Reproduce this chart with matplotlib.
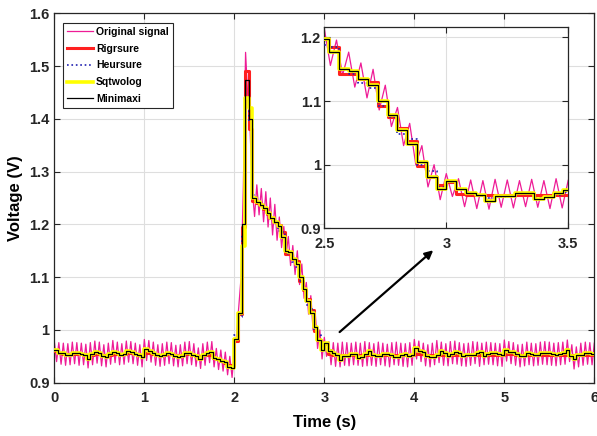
import numpy as np
import matplotlib
matplotlib.use('Agg')
import matplotlib.pyplot as plt

plt.rcParams['font.family'] = ['Liberation Sans', 'DejaVu Sans']
plt.rcParams['font.weight'] = 'bold'

# original signal (mV), sampled every 0.025 s from 0 to 6 s
orig_mv = [
    978, 940, 976, 935, 975, 933, 974, 934, 977, 936, 976, 933, 975, 934, 973, 928, 976, 934, 979, 937,
    977, 932, 972, 930, 975, 935, 980, 938, 977, 934, 974, 935, 979, 939, 978, 936, 975, 933, 972, 930,
    982, 942, 980, 939, 977, 933, 972, 931, 974, 933, 977, 936, 976, 932, 971, 930, 972, 932, 977, 936,
    978, 934, 974, 931, 966, 927, 974, 933, 977, 938, 978, 930, 965, 925, 962, 922, 958, 915, 950, 910,
    960, 990, 1045, 1100, 1270, 1526, 1440, 1380, 1265, 1215, 1275, 1218, 1268, 1205, 1262, 1195, 1250, 1180, 1238, 1170,
    1214, 1156, 1196, 1141, 1177, 1122, 1160, 1105, 1150, 1086, 1125, 1060, 1090, 1030, 1065, 1000, 1030, 965, 1000, 945,
    986, 950, 978, 934, 976, 931, 975, 930, 977, 933, 976, 932, 975, 934, 977, 933, 975, 931, 978, 932,
    976, 933, 974, 931, 977, 934, 975, 932, 973, 930, 976, 934, 977, 933, 975, 931, 974, 930, 976, 933,
    982, 945, 979, 940, 975, 932, 972, 930, 975, 934, 980, 938, 977, 933, 974, 932, 978, 936, 979, 935,
    976, 932, 974, 931, 975, 933, 978, 936, 977, 931, 975, 934, 977, 935, 976, 934, 975, 932, 974, 931,
    981, 941, 978, 936, 976, 933, 972, 930, 973, 932, 977, 934, 975, 932, 974, 933, 977, 935, 978, 934,
    977, 933, 975, 932, 976, 934, 977, 935, 981, 940, 972, 926, 968, 930, 975, 933, 977, 935, 976, 934,
    975]

# denoised signals (mV), one value every 0.04 s from 0 to 6 s
rigrsure_mv = [
    960, 956, 955, 954, 954, 955, 955, 954, 953, 951,
    953, 954, 954, 952, 951, 953, 955, 955, 954, 954,
    956, 956, 955, 953, 952, 957, 957, 955, 953, 952,
    952, 954, 954, 952, 951, 952, 954, 954, 953, 951,
    950, 952, 953, 953, 946, 944, 941, 938, 934, 932,
    979, 1030, 1195, 1490, 1380, 1245, 1240, 1236, 1230, 1220,
    1212, 1205, 1198, 1185, 1143, 1143, 1135, 1130, 1092, 1075,
    1058, 1038, 998, 981, 968, 973, 954, 953, 953, 952,
    952, 952, 953, 953, 953, 953, 953, 953, 953, 953,
    953, 953, 953, 953, 952, 952, 952, 953, 953, 953,
    954, 954, 954, 953, 953, 953, 953, 953, 953, 953,
    953, 953, 953, 953, 953, 953, 953, 953, 953, 953,
    953, 953, 953, 953, 953, 954, 954, 954, 953, 953,
    953, 953, 953, 953, 953, 953, 953, 953, 953, 953,
    953, 953, 953, 953, 952, 952, 953, 953, 953, 953,
    953]

heursure_mv = [
    961, 958, 955, 954, 952, 956, 956, 955, 951, 947,
    954, 957, 957, 951, 950, 953, 958, 956, 953, 954,
    959, 958, 954, 952, 950, 962, 960, 956, 953, 950,
    952, 956, 954, 951, 950, 951, 955, 956, 953, 951,
    946, 952, 955, 958, 947, 944, 941, 939, 930, 929,
    990, 1025, 1180, 1440, 1395, 1255, 1240, 1237, 1230, 1222,
    1210, 1204, 1188, 1185, 1150, 1143, 1128, 1120, 1092, 1075,
    1048, 1040, 1000, 990, 965, 972, 962, 955, 950, 947,
    949, 951, 955, 955, 948, 950, 953, 957, 953, 952,
    951, 954, 954, 952, 949, 949, 952, 953, 951, 952,
    963, 959, 957, 951, 949, 950, 953, 958, 955, 951,
    954, 957, 955, 952, 952, 953, 953, 956, 957, 952,
    954, 955, 955, 954, 952, 960, 957, 957, 954, 951,
    951, 955, 954, 952, 953, 955, 956, 955, 954, 953,
    954, 955, 960, 951, 947, 952, 953, 955, 955, 954,
    954]

sqtwolog_mv = [
    962, 957, 956, 953, 953, 956, 957, 955, 952, 945,
    955, 958, 957, 950, 949, 954, 959, 957, 953, 955,
    960, 958, 955, 952, 949, 963, 960, 957, 952, 950,
    953, 956, 955, 950, 949, 951, 956, 957, 953, 950,
    945, 953, 956, 959, 946, 944, 942, 940, 929, 928,
    983, 1032, 1160, 1440, 1420, 1250, 1242, 1236, 1232, 1222,
    1212, 1205, 1197, 1177, 1150, 1147, 1135, 1125, 1100, 1078,
    1055, 1032, 1005, 981, 962, 975, 961, 956, 952, 943,
    950, 950, 955, 955, 946, 949, 955, 960, 953, 951,
    951, 955, 955, 952, 948, 948, 953, 954, 951, 952,
    965, 960, 958, 950, 948, 949, 953, 960, 956, 951,
    955, 959, 956, 951, 952, 953, 953, 957, 958, 951,
    954, 956, 956, 955, 952, 962, 958, 958, 954, 950,
    951, 956, 954, 952, 953, 956, 957, 956, 955, 953,
    955, 956, 962, 950, 945, 952, 953, 956, 956, 954,
    954]

minimaxi_mv = [
    962, 957, 956, 953, 953, 956, 957, 955, 952, 945,
    955, 958, 957, 950, 949, 954, 959, 957, 953, 955,
    960, 958, 955, 952, 949, 963, 960, 957, 952, 950,
    953, 956, 955, 950, 949, 951, 956, 957, 953, 950,
    945, 953, 956, 959, 946, 944, 942, 940, 929, 928,
    983, 1032, 1200, 1473, 1400, 1250, 1242, 1236, 1232, 1222,
    1212, 1205, 1197, 1177, 1150, 1147, 1135, 1125, 1100, 1078,
    1055, 1032, 1005, 981, 962, 975, 961, 956, 952, 943,
    950, 950, 955, 955, 946, 949, 955, 960, 953, 951,
    951, 955, 955, 952, 948, 948, 953, 954, 951, 952,
    965, 960, 958, 950, 948, 949, 953, 960, 956, 951,
    955, 959, 956, 951, 952, 953, 953, 957, 958, 951,
    954, 956, 956, 955, 952, 962, 958, 958, 954, 950,
    951, 956, 954, 952, 953, 956, 957, 956, 955, 953,
    955, 956, 962, 950, 945, 952, 953, 956, 956, 954,
    954]

main_xticks = [0, 1, 2, 3, 4, 5, 6]
main_yticks = [0.9, 1.0, 1.1, 1.2, 1.3, 1.4, 1.5, 1.6]
main_yticklabels = ['0.9', '1', '1.1', '1.2', '1.3', '1.4', '1.5', '1.6']
inset_xticks = [2.5, 3.0, 3.5]
inset_xticklabels = ['2.5', '3', '3.5']
inset_yticks = [0.9, 1.0, 1.1, 1.2]
inset_yticklabels = ['0.9', '1', '1.1', '1.2']

t_orig = np.linspace(0, 6, len(orig_mv))
t_den = np.linspace(0, 6, len(minimaxi_mv))
orig = np.array(orig_mv) / 1000
rigrsure = np.array(rigrsure_mv) / 1000
heursure = np.array(heursure_mv) / 1000
sqtwolog = np.array(sqtwolog_mv) / 1000
minimaxi = np.array(minimaxi_mv) / 1000


def draw_lines(a):
    a.plot(t_orig, orig, color='#ee1c96', lw=0.9, label='Original signal', zorder=2)
    a.plot(t_den, rigrsure, color='#ff2020', lw=2.2, drawstyle='steps-post', label='Rigrsure', zorder=3)
    a.plot(t_den, heursure, color='#2020b0', lw=1.2, ls=':', drawstyle='steps-post', label='Heursure', zorder=4)
    a.plot(t_den, sqtwolog, color='#ffff00', lw=2.6, drawstyle='steps-post', label='Sqtwolog', zorder=5)
    a.plot(t_den, minimaxi, color='black', lw=0.9, drawstyle='steps-post', label='Minimaxi', zorder=6)


def style_axes(a):
    a.grid(True, color='#dedede', lw=0.8)
    a.set_axisbelow(True)
    for s in a.spines.values():
        s.set_color('#262626')
        s.set_linewidth(0.9)
    a.tick_params(direction='in', top=True, right=True, length=4, width=0.8,
                  labelsize=10.5, colors='#262626')


fig = plt.figure(figsize=(5.97, 4.36), dpi=100)
ax = fig.add_axes([0.091, 0.1222, 0.9045, 0.8473])
draw_lines(ax)
style_axes(ax)
ax.tick_params(axis='x', pad=6)
ax.tick_params(axis='y', pad=3.5)
ax.set_xlim(0, 6)
ax.set_ylim(0.9, 1.6)
ax.set_xticks(main_xticks)
ax.set_yticks(main_yticks)
ax.set_yticklabels(main_yticklabels)
ax.set_xlabel('Time (s)', fontsize=12, fontweight='bold')
ax.set_ylabel('Voltage (V)', fontsize=12, fontweight='bold')
ax.xaxis.set_label_coords(0.5, -0.088)
ax.yaxis.set_label_coords(-0.058, 0.5)

leg = ax.legend(loc='upper left', bbox_to_anchor=(0.0156, 0.9746), borderaxespad=0,
                fontsize=7.5, handlelength=2.5, handletextpad=0.3, labelspacing=0.65,
                fancybox=False, framealpha=1, edgecolor='#262626', borderpad=0.4)
leg.get_frame().set_linewidth(0.8)

ax.annotate('', xy=(4.21, 1.151), xytext=(3.17, 0.996),
            arrowprops=dict(arrowstyle='-|>', color='black', lw=1.6,
                            mutation_scale=12, shrinkA=0, shrinkB=0))

axin = fig.add_axes([0.5432, 0.4764, 0.4087, 0.4624])
draw_lines(axin)
style_axes(axin)
axin.tick_params(axis='x', pad=6.5)
axin.tick_params(axis='y', pad=2.5)
axin.set_xlim(2.5, 3.5)
axin.set_ylim(0.9, 1.217)
axin.set_xticks(inset_xticks)
axin.set_xticklabels(inset_xticklabels)
axin.set_yticks(inset_yticks)
axin.set_yticklabels(inset_yticklabels)

plt.savefig('out.png', dpi=100)
